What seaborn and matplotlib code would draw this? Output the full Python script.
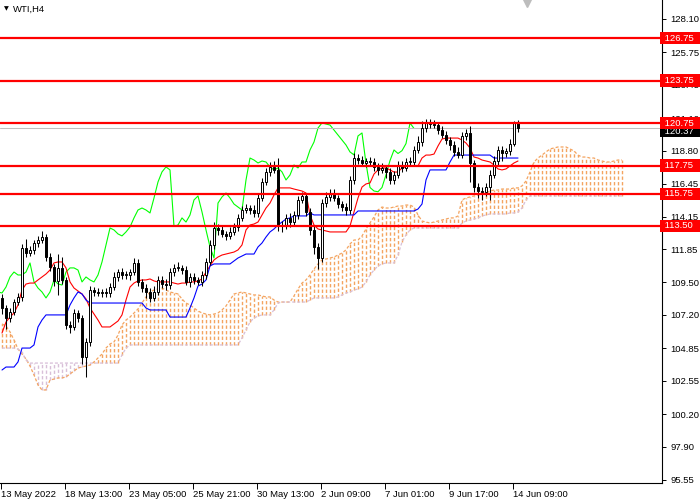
import numpy as np
import pandas as pd
import matplotlib
matplotlib.use("Agg")
import matplotlib.pyplot as plt
import matplotlib.transforms as mtransforms
import seaborn as sns

# WTI, H4 bars from 13 May 2022
first_open = 108.40
close = [
    107.69, 106.98, 107.41, 108.11, 108.47, 111.93, 111.57, 111.79, 112.28, 112.49,
    112.70, 111.29, 110.58, 109.60, 110.51, 109.67, 106.49, 106.35, 107.33, 106.98,
    104.23, 105.29, 108.96, 108.82, 108.75, 108.82, 108.75, 109.17, 109.88, 110.23,
    110.02, 110.02, 110.23, 110.87, 109.53, 109.10, 108.82, 108.40, 108.82, 109.67,
    109.39, 109.31, 110.23, 110.52, 110.52, 110.37, 109.53, 109.88, 109.67, 109.53,
    110.02, 110.94, 112.14, 113.34, 113.20, 112.92, 112.78, 113.06, 113.41, 114.05,
    114.61, 114.75, 114.61, 114.40, 115.46, 116.59, 117.30, 117.65, 117.44, 113.45,
    113.55, 114.05, 113.76, 114.26, 115.32, 115.60, 114.47, 113.20, 112.00, 111.22,
    115.10, 115.53, 115.81, 115.46, 115.03, 114.82, 114.61, 116.73, 118.28, 118.14,
    117.93, 118.07, 118.00, 117.65, 117.44, 117.58, 117.30, 116.73, 117.08, 117.79,
    117.58, 118.00, 118.00, 118.85, 119.41, 120.40, 120.76, 120.68, 120.61, 120.26,
    119.91, 119.55, 119.20, 118.71, 118.50, 119.84, 120.05, 117.90, 116.20, 115.95,
    115.90, 116.20, 117.10, 118.10, 118.85, 118.60, 118.80, 119.30, 120.75, 120.37,
]
upper_wick = [
    0.30, 0.20, 0.30, 0.20, 0.30, 0.30, 0.60, 0.30, 0.20, 0.30,
    0.40, 0.20, 0.30, 0.20, 1.00, 0.80, 0.20, 0.30, 0.30, 0.20,
    0.20, 0.30, 0.30, 0.20, 0.30, 0.20, 0.25, 0.30, 0.35, 0.20,
    0.25, 0.30, 0.20, 0.35, 0.25, 0.20, 0.30, 0.25, 0.40, 0.30,
    0.25, 0.35, 0.30, 0.25, 0.40, 0.20, 0.30, 0.25, 0.30, 0.20,
    0.25, 0.30, 0.35, 0.40, 0.25, 0.30, 0.20, 0.35, 0.25, 0.30,
    0.25, 0.30, 0.20, 0.35, 0.30, 0.25, 0.30, 0.35, 0.40, 0.85,
    0.30, 0.25, 0.35, 0.30, 0.25, 0.30, 0.20, 0.25, 0.30, 0.25,
    0.30, 0.35, 0.25, 0.30, 0.20, 0.25, 0.30, 0.30, 0.35, 0.25,
    0.30, 0.20, 0.25, 0.30, 0.25, 0.35, 0.20, 0.30, 0.25, 0.30,
    0.25, 0.30, 0.35, 0.30, 0.40, 0.50, 0.30, 0.25, 0.30, 0.20,
    0.25, 0.30, 0.20, 0.30, 0.35, 0.30, 0.25, 0.50, 0.25, 0.30,
    0.25, 0.30, 0.35, 0.30, 0.25, 0.30, 0.20, 0.30, 0.15, 0.20,
]
lower_wick = [
    0.40, 0.80, 0.30, 0.25, 0.20, 0.30, 0.25, 0.20, 0.30, 0.25,
    0.20, 0.30, 0.25, 0.35, 1.00, 0.30, 0.30, 0.40, 0.25, 0.30,
    0.50, 1.40, 0.30, 0.25, 0.20, 0.30, 0.25, 0.30, 0.20, 0.25,
    0.30, 0.25, 0.35, 0.20, 0.30, 0.25, 0.40, 0.30, 0.25, 0.20,
    0.30, 0.35, 0.25, 0.30, 0.20, 0.30, 0.25, 0.35, 0.30, 0.25,
    0.30, 0.25, 0.20, 0.30, 0.35, 0.25, 0.30, 0.20, 0.25, 0.30,
    0.25, 0.20, 0.30, 0.25, 0.30, 0.20, 0.25, 0.30, 0.20, 0.30,
    0.40, 0.30, 0.35, 0.25, 0.30, 0.25, 0.30, 0.35, 0.50, 0.80,
    0.30, 0.25, 0.30, 0.20, 0.30, 0.25, 0.35, 0.30, 0.25, 0.30,
    0.20, 0.30, 0.25, 0.30, 0.35, 0.25, 0.40, 0.30, 0.25, 0.20,
    0.30, 0.25, 0.30, 0.20, 0.25, 0.30, 0.25, 0.30, 0.20, 0.30,
    0.25, 0.30, 0.35, 0.30, 0.25, 0.20, 0.30, 1.30, 0.30, 0.50,
    0.60, 0.30, 0.90, 0.25, 0.30, 0.50, 0.25, 0.30, 0.20, 0.25,
]

# Ichimoku lines as drawn on the chart
tenkan = [
    105.92, 106.70, 107.05, 107.34, 107.90, 108.96, 109.38, 109.45, 109.45, 109.67,
    109.88, 110.09, 110.37, 110.87, 110.94, 110.94, 110.52, 109.53, 109.10, 108.89,
    108.68, 108.33, 107.69, 107.26, 106.84, 106.35, 106.35, 106.35, 106.56, 106.77,
    107.20, 108.25, 109.17, 109.45, 109.60, 109.67, 109.67, 109.74, 109.60, 109.53,
    109.53, 109.53, 109.53, 109.45, 109.38, 109.45, 109.45, 109.53, 109.53, 109.60,
    109.74, 110.23, 110.66, 111.08, 111.29, 111.43, 111.50, 111.57, 111.64, 111.79,
    112.14, 113.20, 113.55, 113.62, 113.76, 114.26, 114.75, 115.10, 115.67, 116.17,
    116.17, 116.17, 116.17, 116.09, 116.02, 115.95, 115.81, 114.26, 113.55, 113.27,
    113.20, 113.13, 113.06, 113.06, 113.06, 113.06, 113.06, 113.48, 114.47, 115.46,
    116.23, 116.45, 116.52, 117.15, 117.44, 117.58, 117.58, 117.44, 117.29, 117.29,
    117.58, 117.65, 117.72, 117.72, 117.72, 118.28, 118.49, 118.49, 118.56, 119.13,
    119.62, 119.69, 119.69, 119.69, 119.69, 119.55, 119.34, 118.99, 118.35, 118.28,
    118.14, 118.07, 118.00, 117.79, 117.51, 117.44, 117.51, 117.72, 117.93, 118.07,
]
kijun = [
    103.31, 103.52, 103.52, 103.52, 103.88, 104.86, 104.86, 104.86, 105.08, 106.35,
    106.84, 107.20, 107.20, 107.20, 107.20, 107.20, 107.20, 107.90, 108.40, 108.82,
    108.68, 108.25, 108.04, 108.04, 108.04, 108.04, 108.04, 108.04, 108.04, 108.04,
    108.04, 108.04, 108.04, 108.04, 108.04, 108.04, 107.69, 107.55, 107.55, 107.55,
    107.55, 107.55, 107.05, 107.05, 107.05, 107.05, 107.05, 107.69, 108.40, 109.24,
    109.38, 109.67, 110.66, 110.80, 110.80, 110.80, 110.80, 110.80, 111.01, 111.22,
    111.36, 111.50, 111.50, 111.50, 112.00, 112.28, 112.70, 113.06, 113.27, 113.55,
    113.76, 113.97, 114.05, 114.19, 114.19, 114.19, 114.19, 114.40, 114.26, 114.26,
    114.26, 114.26, 114.26, 114.26, 114.26, 114.26, 114.26, 114.26, 114.26, 114.54,
    114.54, 114.54, 114.54, 114.54, 114.54, 114.54, 114.54, 114.54, 114.54, 114.54,
    114.54, 114.54, 114.54, 114.54, 114.68, 115.03, 116.73, 117.44, 117.44, 117.44,
    117.44, 117.44, 118.00, 118.49, 118.49, 118.49, 118.49, 118.49, 118.49, 118.49,
    118.49, 118.49, 118.49, 118.28, 118.28, 118.28, 118.28, 118.28, 118.28, 118.28,
]
span_a = [
    106.56, 106.42, 106.00, 105.43, 104.79, 104.44, 104.09, 103.59, 102.96, 102.25,
    101.90, 101.90, 102.60, 102.67, 102.75, 102.75, 102.82, 103.03, 103.24, 103.45,
    103.52, 103.59, 103.66, 103.88, 104.16, 104.44, 104.86, 105.15, 105.29, 105.78,
    106.49, 106.84, 107.05, 107.34, 107.62, 108.04, 108.47, 108.82, 108.96, 109.03,
    109.10, 108.96, 108.82, 108.75, 108.68, 108.32, 108.04, 107.90, 107.69, 107.48,
    107.34, 107.26, 107.20, 107.26, 107.34, 107.55, 107.83, 108.25, 108.68, 108.75,
    108.82, 108.75, 108.68, 108.61, 108.61, 108.54, 108.47, 108.47, 108.25, 108.11,
    108.11, 108.11, 108.11, 108.54, 109.03, 109.45, 109.67, 110.02, 110.44, 110.80,
    111.08, 111.15, 111.22, 111.29, 111.43, 111.57, 111.79, 112.21, 112.49, 112.49,
    112.77, 113.27, 113.69, 114.12, 114.61, 114.82, 114.75, 114.75, 114.82, 114.89,
    114.89, 114.96, 114.96, 114.82, 114.26, 113.83, 113.76, 113.69, 113.76, 113.83,
    113.90, 113.97, 114.05, 114.05, 114.19, 115.32, 115.46, 115.53, 115.60, 115.67,
    115.74, 115.81, 115.95, 116.02, 116.02, 116.09, 116.09, 116.09, 116.17, 116.17,
    116.31, 116.66, 117.29, 118.00, 118.28, 118.49, 118.71, 118.92, 118.99, 119.06,
    119.06, 119.06, 118.92, 118.78, 118.49, 118.35, 118.35, 118.28, 118.28, 118.14,
    118.07, 118.00, 118.00, 118.07, 118.14, 118.14,
]
span_b = [
    104.86, 104.86, 104.86, 104.86, 104.79, 104.58, 104.02, 103.80, 103.80, 103.80,
    103.80, 103.80, 103.80, 103.80, 103.80, 103.80, 103.80, 103.80, 103.80, 103.80,
    103.80, 103.80, 103.80, 103.80, 103.80, 103.80, 103.80, 103.80, 103.80, 103.80,
    104.37, 104.86, 105.08, 105.08, 105.08, 105.08, 105.08, 105.08, 105.08, 105.08,
    105.08, 105.08, 105.08, 105.08, 105.08, 105.08, 105.08, 105.08, 105.08, 105.08,
    105.08, 105.08, 105.08, 105.08, 105.08, 105.08, 105.08, 105.08, 105.08, 105.08,
    105.57, 106.14, 106.70, 106.98, 107.12, 107.20, 107.20, 107.20, 107.55, 108.04,
    108.11, 108.11, 108.11, 108.11, 108.11, 108.11, 108.11, 108.25, 108.40, 108.40,
    108.40, 108.40, 108.40, 108.40, 108.47, 108.61, 108.75, 108.82, 108.96, 109.03,
    109.17, 109.53, 110.02, 110.37, 110.66, 110.80, 110.87, 110.87, 110.87, 111.43,
    112.35, 112.85, 113.20, 113.34, 113.34, 113.34, 113.34, 113.34, 113.34, 113.34,
    113.34, 113.34, 113.34, 113.34, 113.34, 113.69, 113.83, 113.90, 113.97, 114.05,
    114.19, 114.26, 114.33, 114.33, 114.33, 114.33, 114.33, 114.40, 114.40, 114.47,
    114.75, 115.32, 115.60, 115.60, 115.60, 115.60, 115.60, 115.60, 115.60, 115.60,
    115.60, 115.60, 115.60, 115.60, 115.60, 115.60, 115.60, 115.60, 115.60, 115.60,
    115.60, 115.60, 115.60, 115.60, 115.60, 115.60,
]
chikou_shift = 26

levels = [126.75, 123.75, 120.75, 117.75, 115.75, 113.50]
last_price = 120.37
price_ticks = [128.10, 125.75, 123.45, 121.10, 118.80, 116.45, 114.15, 111.85,
               109.50, 107.20, 104.85, 102.55, 100.20, 97.90, 95.55]
date_bars = [0, 16, 32, 48, 64, 80, 96, 112, 128]
date_labels = ["13 May 2022", "18 May 13:00", "23 May 05:00", "25 May 21:00",
               "30 May 13:00", "2 Jun 09:00", "7 Jun 01:00", "9 Jun 17:00",
               "14 Jun 09:00"]

sns.set_theme(style="white")
plt.rcParams['font.family'] = ['Liberation Sans', 'DejaVu Sans']

closes = np.array(close)
opens = np.r_[first_open, closes[:-1]]
highs = np.maximum(opens, closes) + np.array(upper_wick)
lows = np.minimum(opens, closes) - np.array(lower_wick)
bars = np.arange(len(closes))

lines = pd.DataFrame({"bar": bars, "tenkan": tenkan, "kijun": kijun, "close": closes})
cloud = pd.DataFrame({"bar": np.arange(len(span_a)), "a": span_a, "b": span_b})

fig = plt.figure(figsize=(7, 5), dpi=100)
ax = fig.add_axes([0, 17 / 500, 662 / 700, 483 / 500])
ax.set_facecolor("white")

# kumo: vertical dotted hatching between the spans
dots = (0, (2.4, 1.6))
up = cloud["a"] >= cloud["b"]
ax.vlines(cloud["bar"][up], cloud["b"][up], cloud["a"][up], colors="#F4A460",
          linestyles=[dots], lw=1.0, zorder=1)
ax.vlines(cloud["bar"][~up], cloud["a"][~up], cloud["b"][~up], colors="#D8BFD8",
          linestyles=[dots], lw=1.0, zorder=1)
ax.plot(cloud["bar"], cloud["a"], color="#F4A460", lw=0.9, ls=dots, zorder=1)
ax.plot(cloud["bar"], cloud["b"], color="#D8BFD8", lw=0.9, ls=dots, zorder=1)

# chikou span = close shifted back
sns.lineplot(x=lines["bar"] - chikou_shift, y=lines["close"], color="#00FF00",
             lw=0.8, ax=ax, zorder=2)
sns.lineplot(data=lines, x="bar", y="tenkan", color="#FF0000", lw=0.8, ax=ax, zorder=2)
sns.lineplot(data=lines, x="bar", y="kijun", color="#0000FF", lw=0.8, ax=ax, zorder=2)

# candles
ax.vlines(bars, lows, highs, color="black", lw=0.75, zorder=3)
body = closes - opens
body = np.where(np.abs(body) < 0.04, 0.04, body)
bull = closes >= opens
ax.bar(bars[bull], body[bull], bottom=opens[bull], width=0.72, color="white",
       edgecolor="black", linewidth=0.7, zorder=4)
ax.bar(bars[~bull], body[~bull], bottom=opens[~bull], width=0.72, color="black",
       edgecolor="black", linewidth=0.7, zorder=4)

# bid line and levels
ax.axhline(last_price, color="#C0C0C0", lw=0.75, zorder=2.5)
for lv in levels:
    ax.axhline(lv, color="#FF0000", lw=1.6, zorder=6)

ax.set_xlim(-0.5, 165)
ax.set_ylim(95.33, 129.44)
ax.set_xlabel("")
ax.set_ylabel("")

# axes / ticks like the terminal
for s in ["left", "top"]:
    ax.spines[s].set_visible(False)
for s in ["right", "bottom"]:
    ax.spines[s].set_color("black")
    ax.spines[s].set_linewidth(0.8)
ax.yaxis.tick_right()
ax.set_yticks(price_ticks)
ax.set_yticklabels([f"{v:.2f}" for v in price_ticks])
ax.set_xticks(np.array(date_bars) - 0.25)
ax.set_xticklabels(date_labels)
for t in ax.get_xticklabels():
    t.set_horizontalalignment("left")
ax.tick_params(axis="y", which="both", right=True, left=False, direction="out",
               length=3, width=0.7, pad=3, labelsize=6.8, colors="black")
ax.tick_params(axis="x", which="both", bottom=True, direction="out",
               length=4, width=0.7, pad=1, labelsize=6.8, colors="black")
ax.grid(False)

# price tags on the right scale
blend = mtransforms.blended_transform_factory(ax.transAxes, ax.transData)
ax.text(1.0, last_price - 0.2, f" {last_price:.2f}  ", transform=blend, ha="left",
        va="center", color="white", fontsize=6.8, clip_on=False, zorder=7,
        bbox=dict(boxstyle="square,pad=0.18", fc="black", ec="none"))
for lv in levels:
    ax.text(1.0, lv, f" {lv:.2f}  ", transform=blend, ha="left", va="center",
            color="white", fontsize=6.8, clip_on=False, zorder=8,
            bbox=dict(boxstyle="square,pad=0.18", fc="#FF0000", ec="none"))

# header and shift marker
fig.text(4 / 700, 1 - 9 / 500, "\u25bc", fontsize=4.5, va="center",
         family="DejaVu Sans", color="black")
fig.text(13 / 700, 1 - 9 / 500, "WTI,H4", fontsize=6.8, va="center", color="black")
ax.plot([131.25], [129.2], marker="v", ms=6, color="#BDBDBD", clip_on=False, zorder=9)

fig.savefig("out.png", dpi=100)
